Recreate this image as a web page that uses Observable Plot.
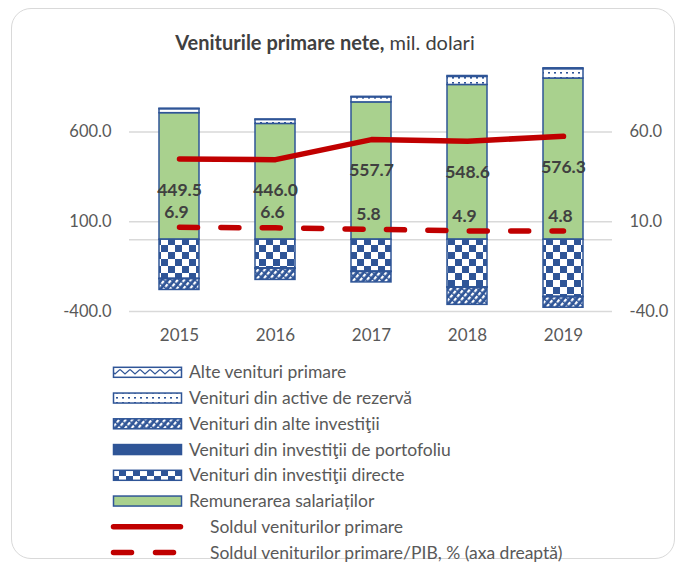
<!DOCTYPE html>
<html>
<head>
<meta charset="utf-8">
<script src="https://cdn.jsdelivr.net/npm/d3@7"></script>
<script src="https://cdn.jsdelivr.net/npm/@observablehq/plot@0.6"></script>
<style>
  html, body { margin: 0; padding: 0; background: #fff; }
  #wrap { position: relative; width: 684px; height: 562px; overflow: hidden; font-family: Lato, "Open Sans", sans-serif; }
  #frame { position: absolute; left: 11px; top: 8px; width: 664px; height: 551px; border: 1.5px solid #d9d9d9; border-radius: 20px; box-sizing: border-box; }
  #title { position: absolute; left: 0; width: 650px; top: 29px; text-align: center; font-size: 20px; color: #404040; line-height: 26px; }
  #title b { font-weight: 700; }
  #chart { position: absolute; left: 0; top: 0; }
  #legend { position: absolute; left: 0; top: 0; width: 684px; height: 562px; pointer-events: none; }
  .lg { position: absolute; font-size: 17.5px; color: #595959; line-height: 17px; white-space: nowrap; }
</style>
</head>
<body>
<svg width="0" height="0" style="position:absolute">
  <defs>
    <pattern id="pChecker" patternUnits="userSpaceOnUse" width="14" height="14">
      <rect width="14" height="14" fill="#fff"/>
      <rect x="0" y="0" width="7" height="7" fill="#2F5597"/>
      <rect x="7" y="7" width="7" height="7" fill="#2F5597"/>
    </pattern>
    <pattern id="pHatch" patternUnits="userSpaceOnUse" width="5" height="5" patternTransform="rotate(40)">
      <rect width="5" height="5" fill="#2F5597"/>
      <rect x="0" y="0" width="2.2" height="3.5" fill="#fff"/>
    </pattern>
    <pattern id="pDots" patternUnits="userSpaceOnUse" width="6" height="5">
      <rect width="6" height="5" fill="#fff"/>
      <rect x="2" y="2" width="2" height="1.6" fill="#2F5597"/>
    </pattern>
    <pattern id="pZigzag" patternUnits="userSpaceOnUse" width="10" height="8">
      <rect width="10" height="8" fill="#fff"/>
      <polyline points="0,1.5 5,6 10,1.5" fill="none" stroke="#2F5597" stroke-width="1.3"/>
    </pattern>
  </defs>
</svg>
<div id="wrap">
  <div id="frame"></div>
  <div id="chart"></div>
  <div id="title"><b>Veniturile primare nete,</b> mil. dolari</div>
  <div id="legend"></div>
</div>
<script>
// ---- data ----
const years = ["2015", "2016", "2017", "2018", "2019"];
const remunerare = [705, 645, 765, 862, 898];
const investitiiDirecte = [-218, -160, -178, -265, -318];
const investitiiPortofoliu = [-2, -2, -2, -3, -3];
const alteInvestitii = [-60, -62, -58, -95, -58];
const activeRezerva = [22, 22, 28, 45, 52];
const alteVenituri = [3, 3, 3, 5, 5];
const soldVenituri = [449.5, 446.0, 557.7, 548.6, 576.3];
const soldPIB = [6.9, 6.6, 5.8, 4.9, 4.8];
const leftTicks = [-400, 100, 600];

const seriesNames = [
  "Remunerarea salariaților",
  "Venituri din investiţii directe",
  "Venituri din investiţii de portofoliu",
  "Venituri din alte investiţii",
  "Venituri din active de rezervă",
  "Alte venituri primare"
];
const seriesValues = [remunerare, investitiiDirecte, investitiiPortofoliu, alteInvestitii, activeRezerva, alteVenituri];
const seriesFills = ["#A9D18E", "url(#pChecker)", "#2F5597", "url(#pHatch)", "url(#pDots)", "url(#pZigzag)"];
const lineNames = ["Soldul veniturilor primare", "Soldul veniturilor primare/PIB, % (axa dreaptă)"];

// build tables
const bars = [];
years.forEach((yr, i) => {
  seriesNames.forEach((s, k) => bars.push({year: yr, series: s, value: seriesValues[k][i]}));
});
const lineData = years.map((yr, i) => ({year: yr, sold: soldVenituri[i], pib: soldPIB[i]}));

const RED = "#C00000";
const plot = Plot.plot({
  width: 684,
  height: 350,
  marginLeft: 129,
  marginRight: 72,
  marginTop: 59.7,
  marginBottom: 39,
  x: {domain: years, paddingInner: 0.586, paddingOuter: 0.293, axis: null},
  y: {domain: [-400, 1000], axis: null},
  color: {domain: seriesNames, range: seriesFills},
  style: {fontFamily: "Lato, 'Open Sans', sans-serif", fontSize: "16px", background: "none", overflow: "visible"},
  marks: [
    Plot.ruleY(leftTicks, {stroke: "#d9d9d9", strokeWidth: 1.5}),
    Plot.ruleY([0], {stroke: "#d9d9d9", strokeWidth: 1.5}),
    Plot.axisY({ticks: leftTicks, anchor: "left", tickSize: 0, tickPadding: 18, tickFormat: d => d.toFixed(1), label: null, fill: "#595959", fontSize: 16.5}),
    Plot.axisY({ticks: leftTicks, anchor: "right", tickSize: 0, tickPadding: 17, tickFormat: d => (d / 10).toFixed(1), label: null, fill: "#595959", fontSize: 16.5}),
    Plot.axisX({anchor: "bottom", tickSize: 0, tickPadding: 17, label: null, fill: "#595959", fontSize: 17}),
    Plot.barY(bars, {x: "year", y: "value", fill: "series", stroke: "#2F5597", strokeWidth: 1.5, order: null}),
    Plot.line(lineData, {x: "year", y: "sold", stroke: RED, strokeWidth: 5.5, strokeLinecap: "round", strokeLinejoin: "round"}),
    Plot.line(lineData, {x: "year", y: d => d.pib * 10, stroke: RED, strokeWidth: 5.5, strokeLinecap: "round", strokeDasharray: "18,23.4"}),
    Plot.text(lineData, {x: "year", y: "sold", text: d => d.sold.toFixed(1), dy: 31, fill: "#404040", fontWeight: "bold", fontSize: 17.5}),
    Plot.text(lineData, {x: "year", y: d => d.pib * 10, text: d => d.pib.toFixed(1), dy: -15, dx: -3, fill: "#404040", fontWeight: "bold", fontSize: 17.5})
  ]
});
document.getElementById("chart").appendChild(plot);

// ---- legend ----
const legend = document.getElementById("legend");
const legendOrder = seriesNames.map((s, k) => ({name: s, fill: seriesFills[k]})).reverse();
const rowY0 = 372.3, rowStep = 25.75;
let html = '<svg width="684" height="562" style="position:absolute;left:0;top:0">';
legendOrder.forEach((it, i) => {
  const cy = rowY0 + i * rowStep;
  html += `<rect x="113.5" y="${cy - 5}" width="68" height="10" fill="${it.fill}" stroke="#2F5597" stroke-width="1.5"/>`;
});
const ly1 = rowY0 + 6 * rowStep, ly2 = rowY0 + 7 * rowStep;
html += `<line x1="113.5" x2="180.5" y1="${ly1}" y2="${ly1}" stroke="${RED}" stroke-width="5.5" stroke-linecap="round"/>`;
html += `<line x1="113.5" x2="175" y1="${ly2}" y2="${ly2}" stroke="${RED}" stroke-width="5.5" stroke-linecap="round" stroke-dasharray="18,24"/>`;
html += '</svg>';
legendOrder.forEach((it, i) => {
  const cy = rowY0 + i * rowStep;
  html += `<div class="lg" style="left:189px;top:${cy - 9}px">${it.name}</div>`;
});
lineNames.forEach((n, j) => {
  const cy = rowY0 + (6 + j) * rowStep;
  html += `<div class="lg" style="left:210px;top:${cy - 9}px">${n}</div>`;
});
legend.innerHTML = html;
</script>
</body>
</html>
